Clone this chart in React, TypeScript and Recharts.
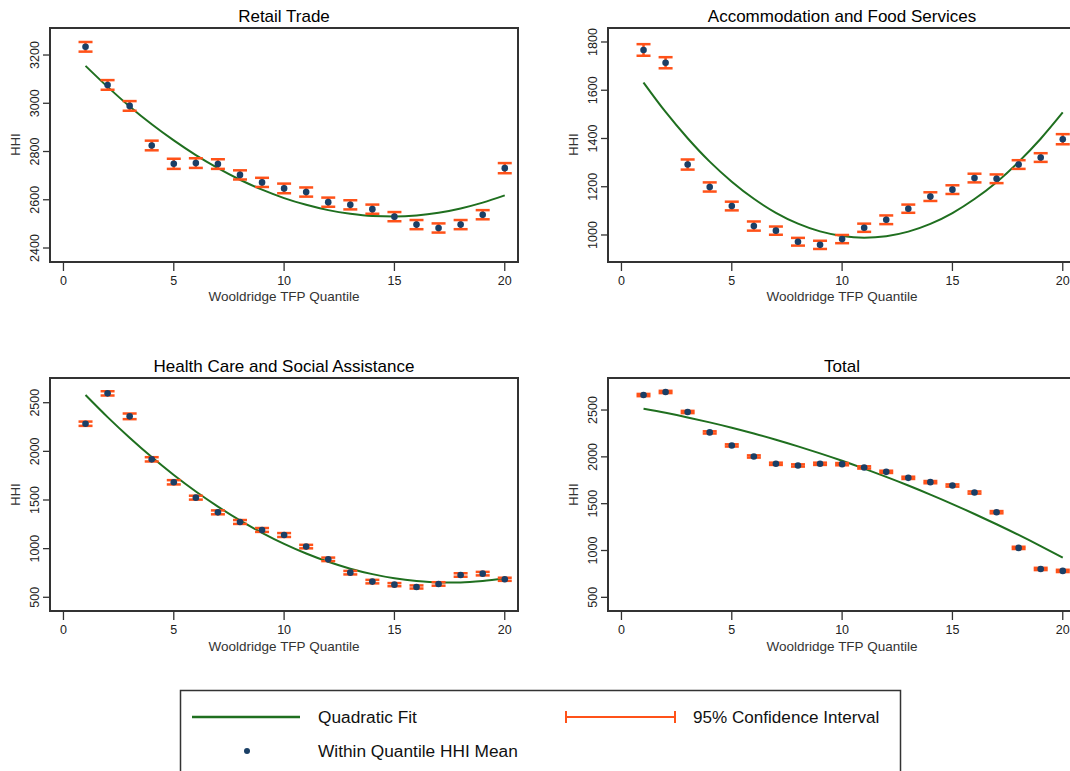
import { ComposedChart, XAxis, YAxis, Line, Scatter, ErrorBar, ReferenceArea } from 'recharts';

const FONT = '"Liberation Sans", Arial, sans-serif';
const GREEN = '#1f6f1f';
const ORANGE = '#ff5219';
const NAVY = '#1a3f66';

const quantiles = [1, 2, 3, 4, 5, 6, 7, 8, 9, 10, 11, 12, 13, 14, 15, 16, 17, 18, 19, 20];
const xTicks = [0, 5, 10, 15, 20];

// Retail Trade
const retailMean = [3234, 3076, 2989, 2825, 2749, 2752, 2748, 2703, 2672, 2647, 2632, 2590, 2579, 2561, 2530, 2497, 2483, 2497, 2538, 2731];
const retailCi = [20, 20, 20, 20, 21, 20, 20, 19, 19, 20, 19, 19, 19, 19, 19, 19, 19, 19, 19, 21];
const retailFit = [3155, 3068, 2987, 2913, 2846, 2785, 2731, 2683, 2642, 2607, 2579, 2557, 2542, 2533, 2531, 2535, 2546, 2564, 2588, 2618];

// Accommodation and Food Services
const accomMean = [1767, 1714, 1292, 1199, 1120, 1037, 1018, 972, 959, 983, 1030, 1063, 1109, 1159, 1188, 1236, 1233, 1292, 1321, 1397];
const accomCi = [24, 23, 21, 19, 18, 19, 17, 16, 17, 17, 17, 18, 17, 18, 18, 18, 18, 18, 18, 21];
const accomFit = [1632, 1510, 1401, 1304, 1221, 1150, 1092, 1047, 1015, 996, 989, 995, 1014, 1046, 1091, 1149, 1219, 1303, 1399, 1508];

// Health Care and Social Assistance
const healthMean = [2284, 2596, 2360, 1918, 1682, 1524, 1373, 1274, 1192, 1140, 1021, 890, 753, 661, 630, 606, 637, 729, 743, 685];
const healthCi = [22, 22, 29, 22, 22, 20, 20, 20, 20, 20, 18, 18, 18, 18, 16, 16, 18, 18, 18, 16];
const healthFit = [2579, 2352, 2140, 1941, 1757, 1587, 1432, 1290, 1163, 1049, 950, 865, 794, 738, 695, 667, 653, 653, 667, 695];

// Total
const totalMean = [2660, 2693, 2479, 2261, 2122, 2004, 1926, 1908, 1926, 1922, 1887, 1840, 1776, 1730, 1694, 1619, 1409, 1028, 803, 782];
const totalCi = [12, 12, 12, 12, 12, 12, 12, 12, 12, 12, 12, 12, 12, 12, 12, 12, 12, 12, 12, 12];
const totalFit = [2514, 2470, 2421, 2368, 2311, 2249, 2183, 2112, 2037, 1958, 1874, 1786, 1694, 1597, 1496, 1390, 1280, 1166, 1047, 924];

const build = (mean: number[], ci: number[], fit: number[]) =>
  quantiles.map((q, i) => ({ q, mean: mean[i], ci: ci[i], fit: fit[i] }));

const RotTick = (props: any) => {
  const { x, y, payload } = props;
  return (
    <text x={x} y={y} transform={`rotate(-90 ${x} ${y})`} textAnchor="middle" fontSize={12.5} fill="#222" fontFamily={FONT}>
      {payload.value}
    </text>
  );
};

const Dot = (p: any) => <circle cx={p.cx} cy={p.cy} r={3.3} fill={NAVY} />;

interface PanelProps {
  title: string;
  data: { q: number; mean: number; ci: number; fit: number }[];
  yDomain: [number, number];
  yTicks: number[];
  left: number;
  top: number;
  width: number;
  yWidth: number;
  right: number;
  xAxisHeight: number;
  textCenter: number;
}

const xDomain: [number, number] = [-0.61, 20.6];

function Panel(p: PanelProps) {
  return (
    <>
      <div style={{ position: 'absolute', left: p.left + p.textCenter - 200, top: p.top + 7, width: 400, textAlign: 'center', fontSize: 17, color: '#000' }}>
        {p.title}
      </div>
      <div style={{ position: 'absolute', left: p.left + p.textCenter - 150, top: p.top + 289, width: 300, textAlign: 'center', fontSize: 13.5, color: '#333' }}>
        Wooldridge TFP Quantile
      </div>
      <div
        style={{
          position: 'absolute',
          left: p.left + p.yWidth - 35 - 20,
          top: p.top + 137,
          width: 40,
          textAlign: 'center',
          fontSize: 13,
          color: '#333',
          transform: 'rotate(-90deg)',
        }}
      >
        HHI
      </div>
      <div style={{ position: 'absolute', left: p.left, top: p.top }}>
        <ComposedChart width={p.width} height={310} data={p.data} margin={{ top: 28, right: p.right, bottom: 0, left: 0 }}>
          <XAxis
            type="number"
            dataKey="q"
            domain={xDomain}
            ticks={xTicks}
            allowDataOverflow
            axisLine={false}
            tickSize={9}
            tickMargin={5}
            tickLine={{ stroke: '#333', strokeWidth: 1.3 }}
            tick={{ fontSize: 12.5, fill: '#222', fontFamily: FONT }}
            height={p.xAxisHeight}
          />
          <YAxis
            type="number"
            domain={p.yDomain}
            ticks={p.yTicks}
            allowDataOverflow
            axisLine={false}
            tickSize={7}
            tickMargin={4}
            tickLine={{ stroke: '#333', strokeWidth: 1.3 }}
            tick={<RotTick />}
            width={p.yWidth}
          />
          <ReferenceArea
            x1={xDomain[0]}
            x2={xDomain[1]}
            y1={p.yDomain[0]}
            y2={p.yDomain[1]}
            fill="none"
            fillOpacity={0}
            stroke="#333"
            strokeWidth={2}
            ifOverflow="visible"
          />
          <Line dataKey="fit" type="monotone" stroke={GREEN} strokeWidth={2} dot={false} isAnimationActive={false} />
          <Scatter dataKey="mean" shape={<Dot />} isAnimationActive={false}>
            <ErrorBar dataKey="ci" direction="y" width={7} stroke={ORANGE} strokeWidth={2.5} isAnimationActive={false} />
          </Scatter>
        </ComposedChart>
      </div>
    </>
  );
}

export default function App() {
  return (
    <div style={{ position: 'absolute', left: 0, top: 0, width: 1070, height: 771, overflow: 'hidden', background: '#fff', fontFamily: FONT }}>
      <Panel title="Retail Trade" data={build(retailMean, retailCi, retailFit)} yDomain={[2342, 3312]} yTicks={[2400, 2600, 2800, 3000, 3200]}
        left={0} top={0} width={535} yWidth={50} right={17} xAxisHeight={48} textCenter={284} />
      <Panel title="Accommodation and Food Services" data={build(accomMean, accomCi, accomFit)} yDomain={[888, 1858]} yTicks={[1000, 1200, 1400, 1600, 1800]}
        left={535} top={0} width={546} yWidth={73} right={5} xAxisHeight={48} textCenter={307} />
      <Panel title="Health Care and Social Assistance" data={build(healthMean, healthCi, healthFit)} yDomain={[359, 2754]} yTicks={[500, 1000, 1500, 2000, 2500]}
        left={0} top={350} width={535} yWidth={50} right={17} xAxisHeight={49} textCenter={284} />
      <Panel title="Total" data={build(totalMean, totalCi, totalFit)} yDomain={[354, 2842]} yTicks={[500, 1000, 1500, 2000, 2500]}
        left={535} top={350} width={546} yWidth={73} right={5} xAxisHeight={49} textCenter={307} />

      <svg style={{ position: 'absolute', left: 0, top: 680 }} width={1070} height={91}>
        <rect x={180.5} y={10.5} width={720} height={100} fill="none" stroke="#333" strokeWidth={1.5} />
        <line x1={192} y1={37} x2={300} y2={37} stroke={GREEN} strokeWidth={2.5} />
        <text x={318} y={37} dy="0.35em" fontSize={17.3} fill="#111" fontFamily={FONT}>Quadratic Fit</text>
        <line x1={566} y1={37} x2={675} y2={37} stroke={ORANGE} strokeWidth={2} />
        <line x1={566} y1={31} x2={566} y2={43} stroke={ORANGE} strokeWidth={2} />
        <line x1={675} y1={31} x2={675} y2={43} stroke={ORANGE} strokeWidth={2} />
        <text x={693} y={37} dy="0.35em" fontSize={17.1} fill="#111" fontFamily={FONT}>95% Confidence Interval</text>
        <circle cx={247} cy={71} r={3} fill={NAVY} />
        <text x={318} y={71} dy="0.35em" fontSize={17.3} fill="#111" fontFamily={FONT}>Within Quantile HHI Mean</text>
      </svg>
    </div>
  );
}
